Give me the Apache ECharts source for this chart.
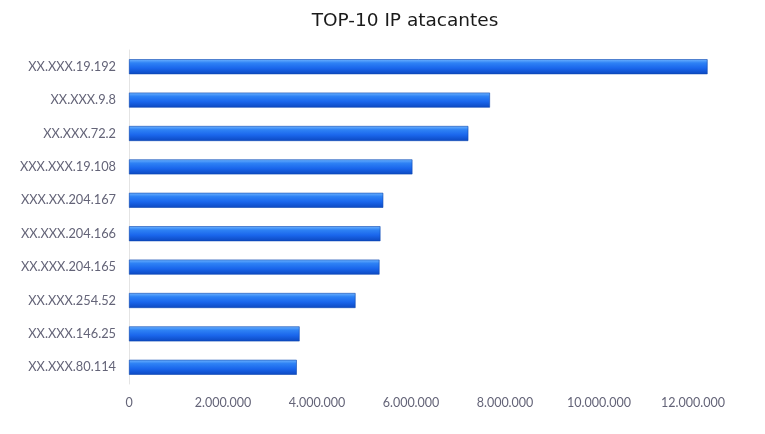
<!DOCTYPE html>
<html><head><meta charset="utf-8">
<script src="https://cdn.jsdelivr.net/npm/echarts@6/dist/echarts.min.js"></script>
<style>html,body{margin:0;padding:0;background:#fff}#c{width:765px;height:434px}</style>
</head><body><div id="c"></div>
<script>
const categories = ["XX.XXX.19.192","XX.XXX.9.8","XX.XXX.72.2","XXX.XXX.19.108","XXX.XX.204.167","XX.XXX.204.166","XX.XXX.204.165","XX.XXX.254.52","XX.XXX.146.25","XX.XXX.80.114"];
const values = [12310000,7680000,7220000,6030000,5410000,5350000,5330000,4820000,3630000,3570000];
const title = "TOP-10 IP atacantes";

const chart = echarts.init(document.getElementById('c'), null, {renderer:'canvas'});
chart.setOption({
  animation:false,
  backgroundColor:'#fff',
  title:{text:title,left:400,top:7,textAlign:'center',textStyle:{fontFamily:'DejaVu Sans',fontWeight:'normal',fontSize:18.5,color:'#1a1a1a'}},
  grid:{left:129,right:25,top:50,bottom:50,containLabel:false},
  xAxis:{type:'value',min:0,max:13000000,interval:2000000,
    axisLine:{show:false},axisTick:{show:false},splitLine:{show:false},
    axisLabel:{showMaxLabel:false,margin:12,color:'#646478',fontFamily:'Lato',fontSize:12.5,
      formatter:v=>v.toString().replace(/\B(?=(\d{3})+(?!\d))/g,'.')}},
  yAxis:{type:'category',data:categories,inverse:true,
    axisLine:{show:true,lineStyle:{color:'#e4e4e4'}},axisTick:{show:false},
    axisLabel:{margin:13,color:'#646478',fontFamily:'Lato',fontSize:12.8}},
  series:[{type:'bar',data:values,barWidth:15,
    itemStyle:{borderColor:'#0b47b0',borderWidth:0.6,
      color:new echarts.graphic.LinearGradient(0,0,0,1,[
        {offset:0,color:'#6fb4ff'},{offset:0.25,color:'#2e82f5'},
        {offset:0.6,color:'#1a66ec'},{offset:1,color:'#0c48c0'}])}}]
});
</script></body></html>
